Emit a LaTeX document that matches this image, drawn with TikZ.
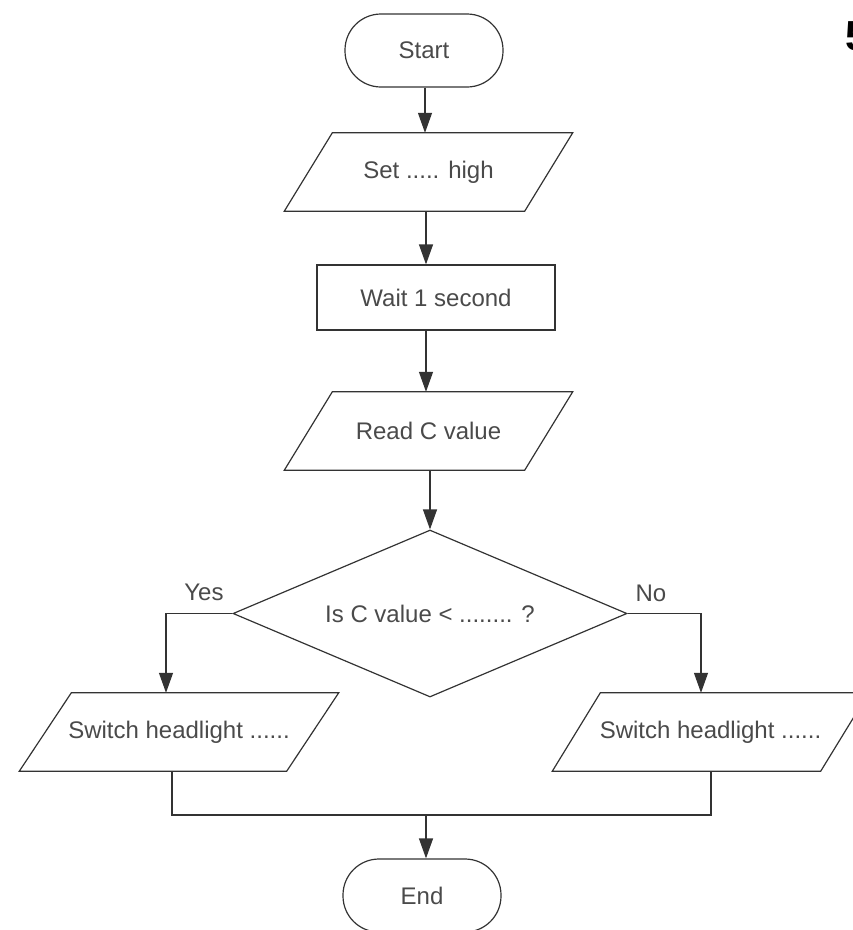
\documentclass[tikz,border=0pt]{standalone}
\usepackage{fontspec}
\setmainfont{Liberation Sans}
\usetikzlibrary{arrows.meta,shapes.geometric}
\definecolor{txt}{HTML}{4A4A4A}
\definecolor{ln}{HTML}{333333}
\newcommand{\drawpara}[2]{\draw[link] ([xshift=#2]#1.north west) -- ([xshift=#2]#1.north east) -- ([xshift=-#2]#1.south east) -- ([xshift=-#2]#1.south west) -- cycle;}
\begin{document}
\begin{tikzpicture}[x=1pt,y=-1pt,
  every node/.style={font=\fontsize{24}{28}\selectfont, text=txt},
  term/.style={draw=ln, line width=1.2pt, rounded corners=36pt, minimum width=158pt, minimum height=73pt, inner sep=0pt},
  proc/.style={draw=ln, line width=1.2pt, inner sep=0pt},
  io/.style={inner sep=0pt},
  decision/.style={diamond, draw=ln, line width=1.2pt, inner sep=0pt, aspect=2.36},
  link/.style={draw=ln, line width=1.2pt},
  arr/.style={link, -{Triangle[length=20pt,width=14pt]}}]
\useasboundingbox (0,0) rectangle (853,930);
\clip (0,0) rectangle (853,930);

\node[term] (start) at (424,50.5) {Start};
\node[io, minimum width=240pt, minimum height=78pt] (set) at (428.5,172) {Set ..... high};
\drawpara{set}{24pt}
\node[proc, minimum width=238pt, minimum height=65pt] (wait) at (436,297.5) {Wait 1 second};
\node[io, minimum width=240pt, minimum height=78pt] (read) at (428.5,431) {Read C value};
\drawpara{read}{24pt}
\node[decision, minimum width=394pt, minimum height=167pt] (dec) at (430,613.5) {Is C value < ........ ?};
\node[io, minimum width=267pt, minimum height=78pt] (swl) at (179,732) {Switch headlight ......};
\drawpara{swl}{26pt}
\node[io, minimum width=268pt, minimum height=78pt] (swr) at (710.5,732) {Switch headlight ......};
\drawpara{swr}{24pt}
\node[term] (end) at (422,895.5) {End};
\node (yes) at (204,592) {Yes};
\node (no) at (651,593) {No};
\node[font=\fontsize{42}{48}\bfseries\selectfont, text=black, anchor=base west, inner sep=0pt] (five) at (845.5,50) {5};

\coordinate (join) at (426,815);

\draw[arr] ([xshift=1pt]start.south) -- ([xshift=1pt]start.south |- set.north);
\draw[arr] ([xshift=-2.5pt]set.south) -- ([xshift=-2.5pt]set.south |- wait.north);
\draw[arr] ([xshift=-10pt]wait.south) -- ([xshift=-10pt]wait.south |- read.north);
\draw[arr] (read.south -| dec.north) -- (dec.north);
\draw[arr] (dec.west) -| ([xshift=-13pt]swl.north);
\draw[arr] (dec.east) -| ([xshift=-9.5pt]swr.north);
\draw[link] ([xshift=-7pt]swl.south) |- (join) -| ([xshift=0.5pt]swr.south);
\draw[arr] (join) -- (join |- end.north);
\end{tikzpicture}
\end{document}
